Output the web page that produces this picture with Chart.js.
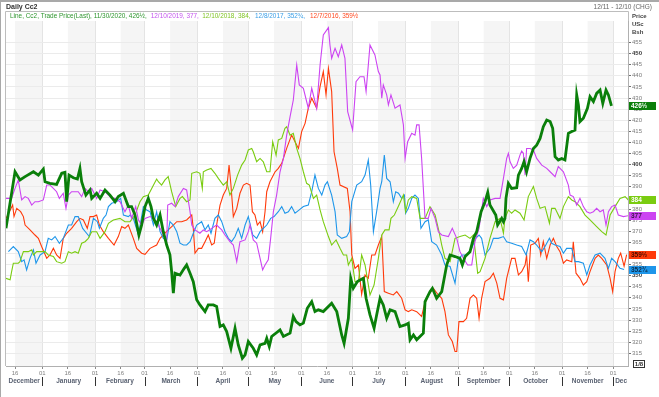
<!DOCTYPE html>
<html>
<head>
<meta charset="utf-8">
<script src="https://cdn.jsdelivr.net/npm/chart.js@4.4.0/dist/chart.umd.min.js"></script>
<style>
  html, body { margin: 0; padding: 0; background: #fff; }
</style>
</head>
<body>
<canvas id="cc2Chart" width="659" height="397"></canvas>
<script>
// =================== DATA ===================
// x = days from 1 Jan 2020 (each year's contract laid over the same season)
const days2020 = [-21.3,-16,-13.1,-10.1,-5.2,-2.3,0.6,1.6,4.5,8.4,
  11.4,13.3,14.3,15.7,18.2,20.6,22.1,23.1,25.6,28,
  29,31.9,33.9,36.8,39.7,42.7,44.6,47.6,50.5,52.4,
  54.4,56.7,58.3,60.3,62.2,63.8,65.2,67.1,69.1,71,
  73,74.9,75.9,76.9,77.9,80.8,83.3,84.7,86.7,88.6,
  90.6,92.5,95.5,97.4,100.4,102.3,104.3,106.2,108.2,110.7,
  113.1,115,117.4,119,120.9,123.8,125.8,127.8,130.7,131.7,
  133.2,134.6,139.5,141.5,145.4,147.3,148.9,151.2,153.2,155.5,
  158.1,160,162,164.9,169.8,172.8,175.7,177.1,179.6,181,
  182.5,184.9,188.4,190,192.3,194.7,196.2,198.2,200.1,202.1,
  204.1,207,209.9,212.9,214.8,215.8,217.8,219.7,223.6,224.6,
  227.5,228.9,231.4,234.4,237.3,239.3,242.2,245.1,246.5,248.1,
  251,253,254.9,257.5,259.8,261.4,262.7,266.1,267.2,269.6,
  270.6,271.5,272.1,273.5,275.4,278.4,279.4,281.3,282.7,284.2,
  286.2,288.2,290.1,292.1,294,296,298,299.5,300.9,302.8,
  304.8,306.7,308.7,310.7,312.6,313.6,314.6,315.5,317.5,319.9,
  321.4,323.4,325.3,327.3,328.9,330.8,332.2,334];
const prices2020 = [371.3,396.8,393.1,394.6,396.8,395.3,398,392.3,391.6,391.1,
  396.1,396.5,383.3,395.3,394.1,393.5,398.3,392.3,386.3,388.6,
  384.8,387.1,384.8,388.6,386.3,383.3,385.6,387.1,381.1,381.1,
  377.3,368.3,372.8,381.1,384.8,381.1,375.8,372.8,377.3,369.8,
  363.8,359.4,351.8,342.1,351.1,350.3,353.3,354.8,351.1,347.3,
  339.1,336.8,333.8,336.8,336.8,336.1,327.1,327.8,324.8,317.3,
  326.3,318.8,312.8,314.3,320.3,317.3,314.3,318.8,319.5,321.8,
  318.1,322.6,325.6,322.6,324.1,331.6,329.3,327.8,328.6,335.3,
  338.3,333.8,334.6,333.8,337.6,333.8,323.3,319.5,330.8,348.8,
  344.3,347.3,348.8,339.8,332.3,326.3,332.3,339.8,336.8,330.8,
  334.6,333.8,327.1,327.8,328.6,321.1,323.3,321.1,324.1,338.3,
  342.8,344.3,339.8,342.8,354.8,359.3,358.6,357.8,354.8,358.6,
  360.8,366.8,369.8,378.8,383.3,387.5,381.8,377.3,372.8,375.8,
  374.3,375.8,384.8,391.6,389.3,389.6,395.3,398.3,401.4,396.8,
  402.8,407.3,408.8,411.8,417.1,420.1,419.4,416.4,403.6,402.1,
  402.8,402.1,414.1,414.9,415.6,431.4,426.9,419.4,420.9,425.4,
  430.6,428.4,432.1,433.6,427.6,433.6,431.4,426.5];

const days2019 = [-21.3,-18,-16,-14.1,-12.1,-10.1,-8.2,-6.2,-4.3,-2.3,
  0.6,2.6,4.5,6.5,8.4,10,12.3,13.9,15.3,17.2,
  21.1,23.1,25.1,27,29,31.9,33.9,36.8,38.8,40.7,
  42.7,45.6,48.5,50.5,52.4,54.8,56.4,58.3,60.3,63.2,
  65.2,67.1,69.1,71,73,73.6,75.9,77.9,79.8,82.8,
  84.7,86.7,87.7,89.6,92.5,94.5,96.5,99.4,102.3,105.3,
  107.2,110.1,112.1,114.1,116,119,120.9,121.9,123.8,125.8,
  127.8,129.3,130.7,132.6,134,135.6,137.5,139.5,141.5,143.4,
  145.4,147.3,149.3,150.8,153.2,156.1,158.1,161,163,164.9,
  167.9,168.8,169.8,171.8,173.7,175.7,177.6,179.2,182.1,184.1,
  186.4,188.8,190,192.3,195.2,197.2,198.2,199.2,200.1,202.1,
  203.1,204.6,207,209.9,211.9,212.9,214.4,216.8,218.7,219.7,
  221.1,222.6,224.6,226.5,228.1,230.5,232.4,234.4,238.3,240.6,
  243.2,245.1,247.1,249.6,252,253.9,256.3,258.8,260.8,262.7,
  265.7,268.6,270.6,272.5,273.5,274.5,276.4,278.4,280.3,281.3,
  282.3,283.3,284.2,286.2,288.2,290.1,293.1,296,298,300.9,
  302.8,305.8,308.7,309.7,311.6,313.6,315.5,317.5,319.5,321.4,
  323.4,325.3,327.3,329.2,330.8,332.2,334.1,336.1,338,341,
  344];
const prices2019 = [384.8,384.8,389.3,393.1,384.1,385.6,384.8,381.8,383.3,383.3,
  384.1,390.8,390.8,389.3,387.8,384.8,387.1,380.3,386.3,387.8,
  387.8,385.6,389.3,387.8,389.3,384.8,388.6,387.8,386.3,384.8,
  384.8,383.3,378.8,381.8,375.8,381.1,375.1,372.8,375.8,376.6,
  375.8,374.3,371.3,368.3,365.3,381.8,382.6,381.1,385.6,389.3,
  388.6,378.8,372.8,370.6,369.1,370.6,369.8,371.3,372.8,370.6,
  368.3,365.3,363.8,356.3,365.3,366.1,369.8,372.8,366.1,364.6,
  357.8,352.6,354.8,357.1,366.8,378.8,386.3,396.8,402.8,413.3,
  421.6,429.1,444.9,435.9,434.4,425.4,434.4,425.4,444.9,458.4,
  461.7,453.9,447.9,452.4,448.6,453.9,447.9,423.9,415.6,437.4,
  439.6,439.6,432.9,453.9,449.4,441.9,440.4,429.9,435.9,431.4,
  426.9,431.4,425.4,426.9,417.9,402.8,410.3,414.1,413.3,417.9,
  417.9,402.8,375.8,375.8,380.3,375.8,369.8,368.3,367.6,371.3,
  366.8,360.8,357.8,354.8,354.8,365.3,371.3,384.8,381.1,384.1,
  384.8,384.8,393.8,402.8,405.1,401.3,398.3,399.8,404.3,406.1,
  405.1,395.3,407.3,407.3,406.6,402.8,399.8,398.3,396.8,394.6,
  399.1,396.8,390.8,386.3,385.6,381.8,384.8,381.1,378.8,378.1,
  378.8,380.3,378.8,379.6,372.8,378.8,381.1,381.8,377.3,376.6,
  377];

const days2018 = [-21.3,-18.9,-18,-17,-14.1,-13.1,-11.1,-8.2,-6.2,-5.2,
  -3.3,-0.4,1.6,3.5,6.5,8.4,11.4,13.3,15.3,17.2,
  19.2,21.1,23.1,25.1,27,29,31.9,33.9,36.8,38.8,
  41.7,45.6,48.5,51.5,54.4,57.3,59.3,62.2,64.2,67.1,
  68.1,70,72,73.9,75.9,78.3,80.8,82.2,84.7,86.7,
  87.7,90.6,92.5,93.9,94.5,96.5,99,101.3,103.3,106.2,
  108.2,110.1,112.1,114.6,117,119,120.9,122.9,123.8,125.8,
  127.8,129.7,131.7,133.6,135.2,137.2,138.5,140.5,142.4,143.4,
  145.4,147.3,149.3,151.2,153.2,155.1,156.7,159.1,161,163,
  164.9,167.9,169.8,172.4,174.7,176.7,178.6,179.6,181.6,183.5,
  185.5,187.4,189.4,192.3,194.7,197.2,199.2,201.1,203.5,204.6,
  206.6,208.9,211.9,213.2,214.8,216.8,219.7,221.7,224.6,227.5,
  230.5,232.8,234.4,236.3,239.3,242.2,245.1,248.1,251,253,
  255.5,256.9,259.8,262.7,265.7,268.6,270.6,271.5,273.5,275.4,
  277.4,280.3,282.7,285.2,288.2,290.1,292.1,295,297.6,298.9,
  300.9,303.8,305.8,308.7,310.7,312.6,315.5,318.5,321.4,325.3,
  328.3,330.8,333.2,336.1,339,342,344];
const prices2018 = [348.8,348.1,351.8,355.6,355.6,356.3,360.8,360.8,361.6,359.3,
  360.8,360.8,360.8,359.3,358.6,356.3,355.6,356.3,360.8,360.1,
  360.8,360.1,364.6,365.3,366.8,369.8,369.8,366.8,369.8,373.6,
  375.1,375.8,374.3,374.3,377.3,383.3,385.6,386.3,389.3,393.5,
  392.3,390.8,393.1,394.6,387.8,381.1,384.8,385.6,383.3,384.1,
  396.1,396.8,396.1,389.3,396.8,397.6,398.3,396.1,393.8,390.8,
  392.3,386.3,389.3,395.3,399.8,402.1,406.6,407.3,405.8,401.3,
  402.8,401.3,396.8,396.8,410.3,404.3,411.1,411.8,416.4,417.1,
  413.3,414.1,407.3,402.8,396.8,391.6,390.8,384.8,386.3,379.6,
  374.3,367.6,363.8,366.1,362.3,359.3,359.3,354.8,357.8,347.3,
  347.3,359.3,354.8,341.3,345.8,357.8,368.3,370.6,370.6,375.8,
  377.3,381.1,386.3,378.8,384.1,385.6,384.8,375.8,375.8,381.1,
  377.3,369.8,363.8,357.8,356.3,366.8,367.6,368.3,366.8,368.3,
  351.1,351.8,357.8,366.8,374.3,375.8,369.1,375.8,379.6,378.1,
  379.6,378.1,375.1,385.6,390.1,384.8,380.3,381.1,373.6,380.3,
  380.3,375.8,381.1,385.6,384.1,383.3,381.1,377.3,375.1,372.1,
  369.8,368.3,377.3,381.1,384.8,385.6,384];

const days2017 = [-19.9,-17,-14.1,-12.1,-10.7,-9.2,-7.2,-5.2,-3.7,-1.3,
  1.6,3.5,5.5,7.5,10,12.3,15.3,17.2,19.2,21.1,
  23.7,26,27.6,30,32.3,33.5,35.8,37.4,38.8,40.7,
  43.6,46,47.6,50.5,51.5,53.4,56.4,59.3,61.2,63.2,
  65.2,67.1,69.1,71,73,74.9,76.9,78.9,80.8,82.8,
  84.7,86.7,88.6,90.6,93.5,95.5,97.4,99,101.3,103.3,
  105.3,107.2,109.2,111.1,113.1,115,117,119,120.9,123.5,
  125.8,127.8,129.7,131.7,134,136,138.5,140.5,142.4,144.4,
  146.3,148.3,150.8,153.2,156.1,158.1,160,162,164,165.9,
  167.3,169.8,171.8,173.1,175.7,178.6,180.2,181.6,184.5,187.4,
  189.4,191.3,192.7,194.3,196.2,198.2,199.2,200.7,202.1,204.1,
  206,207.4,209,210.9,212.5,213.2,214.8,216.8,218.7,220.7,
  222.2,224.6,226.5,228.5,231.4,234.4,236.3,239.3,242.2,244.2,
  246.5,249,252,254.3,256.3,257.8,259.8,262.7,264.7,267.6,
  270.6,272.5,275.4,278.4,281.3,283.9,286.2,288.2,290.1,293.1,
  295,297.6,298.9,300.9,303.8,305.8,307.7,310.7,312.6,314.6,
  317.5,319.5,321.4,324.4,327.3,330.2,332.2,334.1,336.1,339,
  341.4];
const prices2017 = [360.8,363.1,360.8,356.3,357.1,352.6,357.8,361.6,355.6,359.3,
  360.8,366.8,366.1,367.6,364.6,366.8,372.8,372.8,376.6,376.6,
  371.3,369.1,367.6,375.8,374.3,371.3,375.8,377.3,381.1,382.6,
  383.3,384.8,377.3,376.6,377.3,375.8,368.3,381.1,379.6,378.8,
  372.8,378.8,369.8,366.8,366.1,374.3,372.8,369.8,364.6,363.8,
  363.8,365.3,369.1,372.8,374.3,370.6,372.8,369.1,375.8,377.3,
  374.3,369.8,366.8,365.3,367.6,371.3,366.8,372.8,376.6,368.3,
  366.8,369.8,371.3,372.8,375.8,376.6,378.8,381.1,378.1,378.8,
  381.1,378.1,379.6,381.1,381.8,387.8,395.3,389.3,386.3,390.8,
  392.3,386.3,378.8,368.3,366.8,367.6,369.8,383.3,390.8,392.3,
  395.3,402.1,390.8,369.8,378.8,389.3,392.3,404.3,393.8,392.3,
  383.3,387.8,387.1,384.8,386.3,378.1,380.3,384.8,386.3,384.8,
  371.3,374.3,375.1,365.3,363.8,359.3,354.8,354.1,346.6,357.8,
  359.3,359.3,362.3,366.8,368.3,366.8,359.3,362.3,366.8,366.8,
  367.6,365.3,364.6,363.8,363.1,359.3,366.1,365.3,363.8,360.8,
  363.1,366.8,364.6,363.8,363.1,360.1,362.3,362.3,356.3,356.3,
  355.6,350.3,354.8,359.3,360.1,357.8,353.3,357.8,356.3,353.3,
  352.75];

const days2016 = [-21.3,-19.3,-17.4,-16.6,-15,-12.7,-11.1,-10.1,-7.2,-4.3,
  -2.3,-0.4,2.6,4.5,6.5,8.4,10.4,12.3,14.3,17.2,
  20.2,22.1,24.1,26.4,28,30,31.9,33.5,35.8,38.8,
  42.1,44.6,46.6,48.5,50.5,53.4,55.4,58.3,60.3,63.2,
  67.1,69.1,72,73.9,76.9,78.9,81.8,84.7,87.7,88.6,
  89.6,91.6,93.5,95.5,97.4,99.4,100.9,102.3,104.3,106.2,
  108.2,109.6,110.7,112.1,114.1,116,118,119.9,121.9,123.3,
  124.8,126.2,127.8,129.3,130.7,131.7,133.6,136.6,138.5,140.5,
  143.4,146.3,148.3,150.3,152.2,154.2,156.1,158.1,161,163,
  164.9,166.5,167.9,169.8,171.2,173.1,174.7,179,180.6,181.6,
  183.5,185.5,187.4,189.4,191.3,193.3,195.2,197.2,199.2,200.7,
  203.1,206,208,210.9,212.9,214.8,216.8,219.7,222.6,224.2,
  226.5,229.5,232.4,234.4,236.3,238.3,240.6,242.2,243.2,244.5,
  247.1,249,251,253,254.9,256.3,257.8,259.8,262.7,264.7,
  266.7,268.6,270.6,272.5,275.4,277.4,279.4,281.3,283.3,284.2,
  285.2,286.6,289.1,291.1,292.5,294,296,298,299.9,301.9,
  303.8,305.8,307.7,310.7,311.6,313.2,315.5,317.5,319.5,321.4,
  324.4,326.3,328.3,331.2,333.2,334.7,336.1,338,339.4,341.4,
  342.9];
const prices2016 = [375.8,378.8,381.8,376.6,380.3,378.8,376.6,372.8,370.6,368.3,
  366.8,363.1,357.8,359.3,362.3,359.3,357.8,366.8,369.1,371.3,
  374.3,375.8,375.1,371.3,376.6,376.6,377.3,372.8,369.8,366.8,
  363.8,367.6,372.1,371.3,372.8,366.8,362.3,360.1,359.6,362.3,
  363.8,366.8,369.1,370.6,372.8,374.3,374.3,375.1,377.3,371.3,
  360.1,362.3,362.3,365.3,368.3,363.8,364.6,372.8,381.8,386.3,
  389.3,399.8,390.8,376.6,380.3,387.1,390.8,391.6,390.8,378.8,
  377.3,372.8,374.3,369.8,378.8,387.8,392.3,396.8,398.3,400.6,
  407.3,413.3,410.3,407.3,414.9,418.6,425.4,429.9,425.4,435.1,
  441.9,431.4,443.4,432.9,405.8,398.3,390.8,389.3,378.8,359.3,
  353.3,354.8,341.6,350.3,348.8,359.3,359.3,363.8,367.6,342.8,
  342.1,341.3,342.8,339.8,334.6,333.8,334.6,333.8,331.6,336.8,
  341.3,344.3,341.3,339.8,333.8,323.3,320.3,315.8,315.8,329.3,
  329.3,330.8,339.8,341.3,339.8,330.8,339.8,347.3,348.8,351.1,
  346.6,339.8,339.1,348.8,357.8,357.8,350.3,351.8,354.8,359.3,
  347.3,363.8,364.6,366.8,359.3,365.3,357.8,363.8,366.8,363.1,
  360.8,355.6,357.1,356.3,365.3,351.1,348.8,345.8,347.3,351.8,
  357.8,359.3,357.8,354.8,348.8,342.8,351.8,357.8,360.1,354.3,
  359.5];

// series labels, same order as drawn in the legend
const seriesDates = ['11/30/2020', '12/10/2019', '12/10/2018', '12/8/2017', '12/7/2016'];
const lastLabels = ['426\u00BD', '377', '384', '352\u00BE', '359\u00BD'];

// axis: price ticks and calendar (days from 1 Jan 2020)
const priceTicks = [315, 320, 325, 330, 335, 340, 345, 350, 355, 360, 365, 370, 375, 380, 385,
  390, 395, 400, 405, 410, 415, 420, 425, 430, 435, 440, 445, 450, 455];
const tickDays = [-16, 0, 15, 31, 46, 60, 75, 91, 106, 121, 136, 152, 167, 182, 197, 213,
  228, 244, 259, 274, 289, 305, 320, 335];
const tickTexts = ['16', '01', '16', '01', '16', '01', '16', '01', '16', '01', '16', '01',
  '16', '01', '16', '01', '16', '01', '16', '01', '16', '01', '16', '01'];
const monthStarts = [-31, 0, 31, 60, 91, 121, 152, 182, 213, 244, 274, 305, 335];
const monthNames = ['December', 'January', 'February', 'March', 'April', 'May', 'June',
  'July', 'August', 'September', 'October', 'November', 'Dec'];
const halfMonths = [-16, 15, 46, 75, 106, 136, 167, 197, 228, 259, 289, 320];

const X_MIN = -21.3, X_MAX = 343.7;
const Y_MIN = 309.3, Y_MAX = 464.7;

// =================== STYLE ===================
const FONT = '"Liberation Sans", Arial, sans-serif';
const seriesColors = ['#0a7f0a', '#cc44f2', '#7acc10', '#1e96ea', '#ff3a0a'];
const legendColors = ['#2f962f', '#c455ee', '#80c424', '#3a9ee6', '#ff4a22'];
const tagText = ['#ffffff', '#3a1044', '#ffffff', '#0c2c48', '#4a0c00'];
const legendX = [10, 150.7, 202.3, 255, 310];

function toPoints(days, prices) {
    if (days.length !== prices.length) {
        console.warn('length mismatch', days.length, prices.length);
    }
    return days.map((d, i) => ({ x: d, y: prices[i] }));
}

// =================== PLUGIN (bands, labels, tags) ===================
const decorPlugin = {
    id: 'decor',
    beforeDraw(chart) {
        const { ctx, chartArea: a, scales: { x } } = chart;
        ctx.save();
        ctx.fillStyle = '#ffffff';
        ctx.fillRect(0, 0, chart.width, chart.height);
        // light gray half-month bands (16th -> 1st)
        ctx.fillStyle = '#f5f5f5';
        halfMonths.forEach((s, i) => {
            const x0 = Math.max(a.left, x.getPixelForValue(s));
            const x1 = Math.min(a.right, x.getPixelForValue(monthStarts[i + 1]));
            if (x1 > x0) ctx.fillRect(x0, a.top, x1 - x0, a.bottom - a.top);
        });
        ctx.restore();
    },
    afterDraw(chart) {
        const { ctx, chartArea: a, scales: { x, y } } = chart;
        ctx.save();

        // outer window edges
        ctx.fillStyle = '#a9a9a9';
        ctx.fillRect(0, 0, chart.width, 2);
        ctx.fillRect(0, 0, 1, chart.height);

        // plot frame: top and left edges
        ctx.strokeStyle = '#bdbdbd';
        ctx.lineWidth = 1;
        ctx.beginPath();
        ctx.moveTo(5.5, 11.5);
        ctx.lineTo(a.right + 0.5, 11.5);
        ctx.moveTo(5.5, 11.5);
        ctx.lineTo(5.5, a.bottom);
        ctx.moveTo(a.right + 0.5, 11.5);
        ctx.lineTo(a.right + 0.5, a.top);
        ctx.stroke();

        // header
        ctx.textBaseline = 'middle';
        ctx.textAlign = 'left';
        ctx.fillStyle = '#333';
        ctx.font = 'bold 7px ' + FONT;
        ctx.fillText('Daily Cc2', 6, 7);
        ctx.font = '6.5px ' + FONT;
        ctx.fillStyle = '#666';
        ctx.textAlign = 'right';
        ctx.fillText('12/11 - 12/10 (CHG)', 652, 7);

        // legend line, font sized so the first entry spans ~137px like the original
        const legendTexts = seriesDates.map((d, i) => {
            let txt = d + ', ' + lastLabels[i] + (i < seriesDates.length - 1 ? ',' : '');
            return i === 0 ? 'Line, Cc2, Trade Price(Last), ' + txt : txt;
        });
        ctx.font = '10px ' + FONT;
        const legendSize = Math.min(7, 10 * 137 / ctx.measureText(legendTexts[0]).width);
        ctx.font = legendSize.toFixed(2) + 'px ' + FONT;
        ctx.textAlign = 'left';
        legendTexts.forEach((t, i) => {
            ctx.fillStyle = legendColors[i];
            ctx.fillText(t, legendX[i], 16.7);
        });

        // unit labels
        ctx.fillStyle = '#444';
        ctx.font = 'bold 6px ' + FONT;
        ctx.fillText('Price', 632, 16);
        ctx.fillText('USc', 632, 24.5);
        ctx.fillText('Bsh', 632, 32.7);

        // last value tags
        const lastValues = chart.data.datasets.map(ds => ds.data[ds.data.length - 1].y);
        ctx.font = 'bold 6.5px ' + FONT;
        lastValues.forEach((v, i) => {
            const py = y.getPixelForValue(v);
            ctx.fillStyle = seriesColors[i];
            ctx.fillRect(a.right + 1, Math.round(py) - 4, 27, 8);
            ctx.fillStyle = tagText[i];
            ctx.fillText(lastLabels[i], a.right + 3, Math.round(py));
        });

        // fraction box at foot of price axis
        ctx.fillStyle = '#fff';
        ctx.fillRect(633, 360, 11, 7);
        ctx.strokeStyle = '#333';
        ctx.strokeRect(633.5, 360.5, 11, 7);
        ctx.fillStyle = '#333';
        ctx.font = 'bold 6px ' + FONT;
        ctx.textAlign = 'center';
        ctx.fillText('1/8', 639, 364.2);

        // month names and separators
        ctx.font = 'bold 6.5px ' + FONT;
        ctx.fillStyle = '#5a6272';
        monthNames.forEach((m, i) => {
            const x0 = Math.max(a.left, x.getPixelForValue(monthStarts[i]));
            const end = i + 1 < monthStarts.length ? monthStarts[i + 1] : X_MAX;
            const x1 = Math.min(a.right, x.getPixelForValue(end));
            if (m === 'Dec') {
                ctx.textAlign = 'left';
                ctx.fillText(m, x0 + 2, 381);
            } else {
                ctx.textAlign = 'center';
                ctx.fillText(m, (x0 + x1) / 2, 381);
            }
        });
        ctx.strokeStyle = '#333';
        ctx.beginPath();
        monthStarts.forEach(ms => {
            if (ms <= X_MIN) return;
            const px = Math.round(x.getPixelForValue(ms)) + 0.5;
            ctx.moveTo(px, 377);
            ctx.lineTo(px, 386);
        });
        ctx.stroke();

        ctx.restore();
    }
};

// =================== CHART ===================
const datasets = [
    { label: '2020', data: toPoints(days2020, prices2020), borderColor: seriesColors[0], borderWidth: 2.8 },
    { label: '2019', data: toPoints(days2019, prices2019), borderColor: seriesColors[1], borderWidth: 1.1 },
    { label: '2018', data: toPoints(days2018, prices2018), borderColor: seriesColors[2], borderWidth: 1.1 },
    { label: '2017', data: toPoints(days2017, prices2017), borderColor: seriesColors[3], borderWidth: 1.1 },
    { label: '2016', data: toPoints(days2016, prices2016), borderColor: seriesColors[4], borderWidth: 1.1 }
];

new Chart(document.getElementById('cc2Chart'), {
    type: 'line',
    data: { datasets: datasets },
    options: {
        responsive: false,
        animation: false,
        devicePixelRatio: 1,
        layout: { padding: { left: 6, top: 21, right: 0, bottom: 0 } },
        elements: {
            point: { radius: 0 },
            line: { tension: 0, fill: false, borderJoinStyle: 'miter' }
        },
        plugins: { legend: { display: false }, tooltip: { enabled: false } },
        scales: {
            x: {
                type: 'linear',
                min: X_MIN,
                max: X_MAX,
                afterBuildTicks: s => { s.ticks = tickDays.map(v => ({ value: v })); },
                afterFit: s => { s.height = 31; },
                ticks: {
                    autoSkip: false,
                    maxRotation: 0,
                    padding: 1,
                    color: '#808080',
                    font: { family: FONT, size: 6 },
                    callback: (v, i) => tickTexts[i]
                },
                grid: {
                    color: c => (c.tick && monthStarts.includes(c.tick.value)) ? '#e4e4e4' : 'rgba(0,0,0,0)',
                    tickColor: '#8a8a8a',
                    tickLength: 3
                },
                border: { color: '#b0b0b0' }
            },
            y: {
                type: 'linear',
                position: 'right',
                min: Y_MIN,
                max: Y_MAX,
                afterBuildTicks: s => { s.ticks = priceTicks.map(v => ({ value: v })); },
                afterFit: s => { s.width = 31; },
                ticks: {
                    padding: 1,
                    color: c => (c.tick && c.tick.value % 50 === 0) ? '#3a3a3a' : '#7a7a7a',
                    font: c => ({ family: FONT, size: 6, weight: (c.tick && c.tick.value % 50 === 0) ? 'bold' : 'normal' }),
                    callback: v => String(v)
                },
                grid: { color: '#ebebeb', tickColor: '#707070', tickLength: 3 },
                border: { color: '#b0b0b0' }
            }
        }
    },
    plugins: [decorPlugin]
});
</script>
</body>
</html>
